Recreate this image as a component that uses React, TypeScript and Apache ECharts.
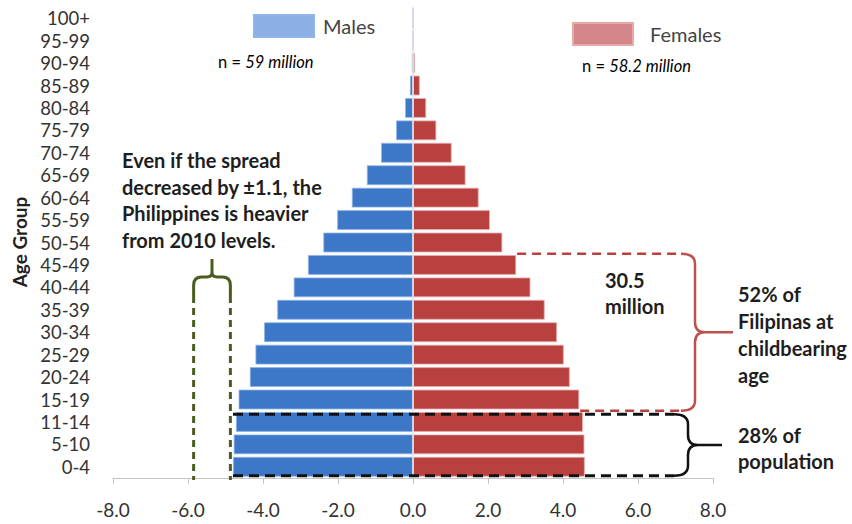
import React, { useEffect, useRef } from "react";
import * as echarts from "echarts";

const ageGroups = ["0-4","5-10","11-14","15-19","20-24","25-29","30-34","35-39","40-44","45-49","50-54","55-59","60-64","65-69","70-74","75-79","80-84","85-89","90-94","95-99","100+"];
const males = [4.8, 4.78, 4.72, 4.65, 4.35, 4.2, 3.97, 3.62, 3.18, 2.8, 2.39, 2.02, 1.63, 1.23, 0.85, 0.45, 0.21, 0.08, 0.03, 0.01, 0.005];
const females = [4.58, 4.57, 4.53, 4.43, 4.18, 4.02, 3.84, 3.51, 3.13, 2.75, 2.38, 2.05, 1.75, 1.4, 1.03, 0.62, 0.35, 0.18, 0.05, 0.02, 0.01];
const xMin = -8;
const xMax = 8;
const xStep = 2;
// annotation reference values
const spreadLeft = -5.85;
const spreadRight = -4.87;
const femaleCountText = "30.5\nmillion";
const leftNote = ["Even if the spread", "decreased by ±1.1, the", "Philippines is heavier", "from 2010 levels."];
const redNote = ["52% of", "Filipinas at", "childbearing", "age"];
const blackNote = ["28% of", "population"];

const FONT = "Lato, 'Open Sans', sans-serif";

export default function App() {
  const ref = useRef<HTMLDivElement>(null);
  useEffect(() => {
    const chart = echarts.init(ref.current!, null, { renderer: "svg" });
    chart.setOption({
      animation: false,
      backgroundColor: "#ffffff",
      textStyle: { fontFamily: FONT },
      grid: { left: 113, right: 139, top: 7, bottom: 46, containLabel: false },
      legend: [
        {
          data: [{ name: "Males", itemStyle: { color: "#8cb0e6" } }],
          left: 253, top: 14, itemWidth: 60, itemHeight: 22, icon: "rect", padding: 0,
          textStyle: { fontSize: 20, color: "#444", fontFamily: FONT, padding: [0, 0, 0, 4] },
          selectedMode: false,
        },
        {
          data: [{ name: "Females", itemStyle: { color: "#d4868b" } }],
          left: 572, top: 22, itemWidth: 60, itemHeight: 22, icon: "rect", padding: 0,
          textStyle: { fontSize: 20, color: "#444", fontFamily: FONT, padding: [0, 0, 0, 12] },
          selectedMode: false,
        },
      ],
      xAxis: {
        type: "value", min: xMin, max: xMax, interval: xStep,
        splitLine: { show: false },
        axisLine: { show: true, lineStyle: { color: "#c4c4c4", width: 1 } },
        axisTick: { show: true, length: 6, lineStyle: { color: "#c4c4c4" } },
        axisLabel: { fontSize: 19, color: "#333", margin: 22, fontFamily: FONT, formatter: (v: number) => v.toFixed(1) },
      },
      yAxis: {
        type: "category", data: ageGroups,
        axisLine: { show: false, onZero: false },
        axisTick: { show: false },
        axisLabel: { interval: 0, fontSize: 18.5, color: "#333", margin: 23, fontFamily: FONT },
      },
      series: [
        {
          name: "Males", type: "bar", data: males.map((v) => -v),
          barGap: "-100%", barCategoryGap: "12%",
          itemStyle: { color: "#3c77c8", borderColor: "#8fb4ea", borderWidth: 0.8 },
        },
        {
          name: "Females", type: "bar", data: females,
          barGap: "-100%", barCategoryGap: "12%",
          itemStyle: { color: "#b8413f", borderColor: "#eaa9a9", borderWidth: 0.8 },
          markLine: {
            silent: true, symbol: "none", label: { show: false },
            lineStyle: { color: "#dfe3ea", width: 1.5, type: "solid" },
            data: [{ xAxis: 0 }],
          },
        },
      ],
    });

    const px = (v: number) => chart.convertToPixel({ xAxisIndex: 0 }, v) as number;
    const py = (c: string) => chart.convertToPixel({ yAxisIndex: 0 }, c) as number;
    const band = py("0-4") - py("5-10");
    const axisY = py("0-4") + band / 2;

    const brace = (xv: number, y1: number, y2: number, tip: number) => {
      const ym = (y1 + y2) / 2;
      const r = 10;
      return `M ${xv - r - 4} ${y1} Q ${xv} ${y1} ${xv} ${y1 + r} L ${xv} ${ym - r} Q ${xv} ${ym} ${xv + r} ${ym} L ${tip} ${ym} M ${xv + r} ${ym} Q ${xv} ${ym} ${xv} ${ym + r} L ${xv} ${y2 - r} Q ${xv} ${y2} ${xv - r - 4} ${y2}`;
    };

    // red bracket (15-49)
    const redTop = (py("50-54") + py("45-49")) / 2;
    const redBot = (py("15-19") + py("11-14")) / 2;
    const redXv = 695;
    const redTip = 733;
    const redTopStart = px(females[ageGroups.indexOf("45-49")]) + 1;
    const redBotStart = px(females[ageGroups.indexOf("15-19")]) + 1;
    echarts.graphic.registerShape("braceRed", echarts.graphic.extendPath(brace(redXv, redTop, redBot, redTip), {}));

    // black bracket (0-14)
    const blkTop = py("11-14") - band * 0.34;
    const blkBot = py("0-4") + band * 0.4;
    const blkXv = 688;
    const blkTip = 722;
    const blkStart = px(-males[0]);
    echarts.graphic.registerShape("braceBlack", echarts.graphic.extendPath(brace(blkXv, blkTop, blkBot, blkTip), {}));

    // green bracket
    const gl = px(spreadLeft);
    const gr = px(spreadRight);
    const gm = (gl + gr) / 2;
    const gH = 277;
    const gTip = 259;
    const gS = 303;
    const gd = `M ${gl} ${gS} L ${gl} ${gH + 8} Q ${gl} ${gH} ${gl + 8} ${gH} L ${gm - 5} ${gH} Q ${gm} ${gH} ${gm} ${gH - 5} L ${gm} ${gTip} M ${gm} ${gH - 5} Q ${gm} ${gH} ${gm + 5} ${gH} L ${gr - 8} ${gH} Q ${gr} ${gH} ${gr} ${gH + 8} L ${gr} ${gS}`;
    echarts.graphic.registerShape("braceGreen", echarts.graphic.extendPath(gd, {}));

    const red = "#b8403f";
    const green = "#4a5d1f";
    const textLines = (lines: string[], x: number, y0: number, lh: number, size: number) =>
      lines.map((t, i) => ({
        type: "text", z: 110, x, y: y0 + i * lh,
        style: { text: t, font: `bold ${size}px ${FONT}`, fill: "#1e1e1e", textAlign: "left", textVerticalAlign: "middle" },
      }));

    const nRich = {
      a: { fontSize: 16.5, fontFamily: FONT, color: "#555" },
      b: { fontSize: 16.5, fontFamily: FONT, fontStyle: "italic", color: "#555" },
    };

    const graphic: any[] = [
      // axis title
      {
        type: "text", z: 110, x: 19, y: 242, rotation: Math.PI / 2,
        style: { text: "Age Group", font: `bold 19px ${FONT}`, fill: "#222", textAlign: "center", textVerticalAlign: "middle" },
      },
      { type: "text", z: 110, x: 218, y: 62, style: { text: "{a|n = }{b|59 million}", textVerticalAlign: "middle", rich: nRich } },
      { type: "text", z: 110, x: 582, y: 66, style: { text: "{a|n = }{b|58.2 million}", textVerticalAlign: "middle", rich: nRich } },
      ...textLines(leftNote, 122, 160, 26.7, 20),
      ...textLines(femaleCountText.split("\n"), 605, 280, 25.5, 20),
      ...textLines(redNote, 738, 293.5, 27.2, 20),
      ...textLines(blackNote, 738, 435, 26, 20),
      // red dashed lines + brace
      { type: "line", z: 100, shape: { x1: redTopStart, y1: redTop, x2: redXv - 14, y2: redTop }, style: { stroke: red, lineWidth: 2.5, lineDash: [9, 6] } },
      { type: "line", z: 100, shape: { x1: redBotStart, y1: redBot, x2: redXv - 14, y2: redBot }, style: { stroke: red, lineWidth: 2.5, lineDash: [9, 6] } },
      { type: "braceRed", z: 100, x: 0, y: 0, style: { fill: "none", stroke: "#c0504d", lineWidth: 2.5 } },
      // black dashed lines + brace
      { type: "line", z: 100, shape: { x1: blkStart, y1: blkTop, x2: blkXv - 14, y2: blkTop }, style: { stroke: "#111", lineWidth: 3, lineDash: [10, 6] } },
      { type: "line", z: 100, shape: { x1: blkStart, y1: blkBot, x2: blkXv - 14, y2: blkBot }, style: { stroke: "#111", lineWidth: 3, lineDash: [10, 6] } },
      { type: "braceBlack", z: 100, x: 0, y: 0, style: { fill: "none", stroke: "#111", lineWidth: 2.5 } },
      // green bracket
      { type: "line", z: 100, shape: { x1: gl, y1: gS + 5, x2: gl, y2: axisY + 2 }, style: { stroke: green, lineWidth: 3, lineDash: [7, 5] } },
      { type: "line", z: 100, shape: { x1: gr, y1: gS + 5, x2: gr, y2: axisY + 2 }, style: { stroke: green, lineWidth: 3, lineDash: [7, 5] } },
      { type: "braceGreen", z: 100, x: 0, y: 0, style: { fill: "none", stroke: green, lineWidth: 3 } },
    ];
    chart.setOption({ graphic });

    return () => chart.dispose();
  }, []);
  return <div ref={ref} style={{ position: "fixed", left: 0, top: 0, width: 852, height: 524, background: "#fff" }} />;
}
